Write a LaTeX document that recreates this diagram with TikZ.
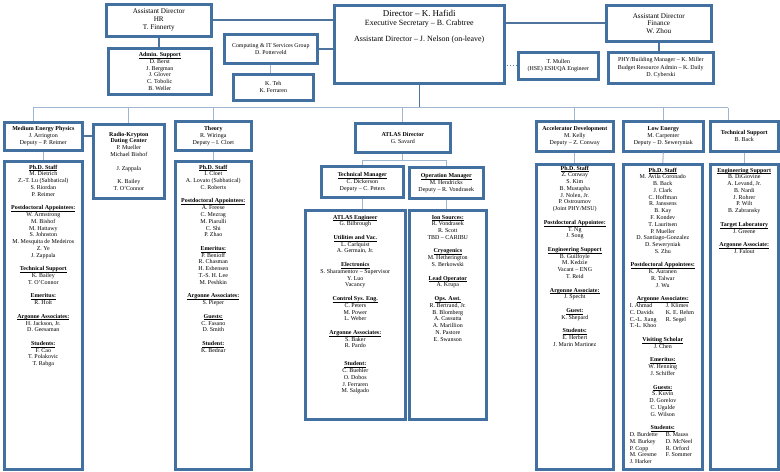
\documentclass[tikz,border=0pt]{standalone}
\usepackage{fontspec}
\setmainfont{Liberation Serif}
\usetikzlibrary{calc}
\definecolor{boxblue}{RGB}{66,112,160}
\definecolor{linkblue}{RGB}{78,116,158}
\definecolor{treeblue}{RGB}{160,182,206}
\newcommand{\grp}[1]{\rule{0pt}{4.4bp}\underline{\smash{\textbf{#1}}}}
\newcommand{\pair}[2]{\makebox[36bp][l]{#1}\makebox[30bp][l]{#2}}
\tikzset{box/.style={draw=boxblue,line width=2.6bp,fill=white,inner sep=0pt,anchor=north west,align=center,font=\fontsize{6}{6.8}\selectfont}}
\tikzset{txt/.style={inner sep=0pt,anchor=north,align=center,font=\fontsize{6}{6.8}\selectfont}}
\tikzset{link/.style={draw=linkblue,line width=1.6bp}}
\tikzset{tree/.style={draw=treeblue,line width=1bp}}

\begin{document}
\begin{tikzpicture}[x=1bp,y=-1bp]
  \useasboundingbox (0,0) rectangle (780,472);
  % top row
  \node[box,font=\fontsize{7.2}{8}\selectfont,minimum width=105bp,minimum height=32bp] (hr) at (105,3) {Assistant Director\\ HR\\ T. Finnerty};
  \node[box,minimum width=103bp,minimum height=46bp] (admin) at (107,47) {\grp{Admin. Support}\\ D. Berst\\ J. Bergman\\ J. Glover\\ C. Tobolic\\ B. Weller};
  \node[box,font=\fontsize{5.9}{7}\selectfont,minimum width=93bp,minimum height=29bp] (comp) at (223,33) {Computing \& IT Services Group\\ D. Potterveld};
  \node[box,minimum width=80bp,minimum height=26bp] (teh) at (232,73) {K. Teh\\ K. Ferraren};
  \node[box,minimum width=170bp,minimum height=78bp] (dir) at (333,4) {};
  \node[txt,font=\fontsize{8}{9.5}\selectfont] (dirtxt) at ([yshift=-5.5bp]dir.north) {{\fontsize{9}{10}\selectfont Director -- K. Hafidi}\\[0.5bp] Executive Secretary -- B. Crabtree\\[6.5bp] Assistant Director -- J. Nelson (on-leave)};
  \node[box,font=\fontsize{6}{7.5}\selectfont,minimum width=80bp,minimum height=27bp] (mullen) at (517,51) {T. Mullen\\ (HSE) ESH/QA Engineer};
  \node[box,font=\fontsize{7.2}{7.6}\selectfont,minimum width=105bp,minimum height=36bp] (fin) at (605,4) {Assistant Director\\ Finance\\ W. Zhou};
  \node[box,font=\fontsize{6}{7.7}\selectfont,minimum width=105bp,minimum height=31bp] (phy) at (607,51) {PHY/Building Manager -- K. Miller\\ Budget Resource Admin -- K. Daily\\ D. Cyberski};

  % group heads
  \node[box,minimum width=78bp,minimum height=28bp] (mep) at (3,121) {\textbf{Medium Energy Physics}\\ J. Arrington\\ Deputy -- P. Reimer};
  \node[box,minimum width=71bp,minimum height=74bp] (radio) at (92,123) {\textbf{Radio-Krypton}\\ \textbf{Dating Center}\\ P. Mueller\\ Michael Bishof\\[6.8bp] J. Zappala\\[6.8bp] K. Bailey\\ T. O'Connor};
  \node[box,minimum width=76bp,minimum height=29bp] (theory) at (174,120) {\textbf{Theory}\\ R. Wiringa\\ Deputy -- I. Cloet};
  \node[box,minimum width=95bp,minimum height=29bp] (atlas) at (354,122) {\textbf{ATLAS Director}\\ G. Savard};
  \node[box,minimum width=82bp,minimum height=31bp] (techmgr) at (320,165) {\grp{Technical Manager}\\ C. Dickerson\\ Deputy -- C. Peters};
  \node[box,minimum width=74bp,minimum height=31bp] (opsmgr) at (408,166) {\grp{Operation Manager}\\ M. Hendricks\\ Deputy -- R. Vondrasek};
  \node[box,minimum width=77bp,minimum height=30bp] (accel) at (535,120) {\textbf{Accelerator Development}\\ M. Kelly\\ Deputy -- Z. Conway};
  \node[box,minimum width=80bp,minimum height=30bp] (lowe) at (622,120) {\textbf{Low Energy}\\ M. Carpenter\\ Deputy -- D. Seweryniak};
  \node[box,minimum width=68bp,minimum height=30bp] (techsup) at (709,120) {\textbf{Technical Support}\\ B. Back};

  % staff boxes
  \node[box,minimum width=78bp,minimum height=308bp] (mepstaff) at (3,160) {};
  \node[txt] (mepstafftxt) at ([yshift=-4.5bp]mepstaff.north) {\grp{Ph.D. Staff}\\ M. Dietrich\\ Z.-T. Lu (Sabbatical)\\ S. Riordan\\ P. Reimer\\[6.8bp] \grp{Postdoctoral Appointees:}\\ W. Armstrong\\ M. Bishof\\ M. Hattawy\\ S. Johnston\\ M. Mesquita de Medeiros\\ Z. Ye\\ J. Zappala\\[6.8bp] \grp{Technical Support}\\ K. Bailey\\ T. O'Connor\\[6.8bp] \grp{Emeritus:}\\ R. Holt\\[6.8bp] \grp{Argonne Associates:}\\ H. Jackson, Jr.\\ D. Geesaman\\[6.8bp] \grp{Students:}\\ F. Cao\\ T. Polakovic\\ T. Rabga};
  \node[box,minimum width=76bp,minimum height=308bp] (theorystaff) at (174,160) {};
  \node[txt] (theorystafftxt) at ([yshift=-4.5bp]theorystaff.north) {\grp{Ph.D. Staff}\\ I. Cloet\\ A. Lovato (Sabbatical)\\ C. Roberts\\[6.8bp] \grp{Postdoctoral Appointees:}\\ A. Freese\\ C. Mezrag\\ M. Piarulli\\ C. Shi\\ P. Zhao\\[6.8bp] \grp{Emeritus:}\\ P. Benioff\\ R. Chasman\\ H. Esbensen\\ T.-S. H. Lee\\ M. Peshkin\\[6.8bp] \grp{Argonne Associates:}\\ S. Pieper\\[6.8bp] \grp{Guests:}\\ C. Fasano\\ D. Smith\\[6.8bp] \grp{Student:}\\ K. Bednar};
  \node[box,minimum width=100bp,minimum height=209bp] (techstaff) at (304,209) {};
  \node[txt] (techstafftxt) at ([yshift=-5.5bp]techstaff.north) {\grp{ATLAS Engineer}\\ G. Bilbrough\\[6.8bp] \grp{Utilities and Vac.}\\ L. Carlquist\\ A. Germain, Jr.\\[6.8bp] \grp{Electronics}\\ S. Sharamentov -- Supervisor\\ Y. Luo\\ Vacancy\\[6.8bp] \grp{Control Sys. Eng.}\\ C. Peters\\ M. Power\\ L. Weber\\[6.8bp] \grp{Argonne Associates:}\\ S. Baker\\ R. Pardo\\[11bp] \grp{Student:}\\ C. Buehler\\ O. Dobos\\ J. Ferraren\\ M. Salgado};
  \node[box,minimum width=77bp,minimum height=209bp] (opsstaff) at (408,209) {};
  \node[txt] (opsstafftxt) at ([yshift=-5.5bp]opsstaff.north) {\grp{Ion Sources:}\\ R. Vondrasek\\ R. Scott\\ TBD -- CARIBU\\[6.8bp] \grp{Cryogenics}\\ M. Hetherington\\ S. Berkowski\\[6.8bp] \grp{Lead Operator}\\ A. Krupa\\[6.8bp] \grp{Ops. Asst.}\\ R. Bertrand, Jr.\\ B. Blomberg\\ A. Cassutta\\ A. Marillion\\ N. Pastore\\ E. Swanson};
  \node[box,minimum width=77bp,minimum height=305bp] (accelstaff) at (535,163) {};
  \node[txt] (accelstafftxt) at ([yshift=-2.5bp]accelstaff.north) {\grp{Ph.D. Staff}\\ Z. Conway\\ S. Kim\\ B. Mustapha\\ J. Nolen, Jr.\\ P. Ostroumov\\ (Joint PHY/MSU)\\[6.8bp] \grp{Postdoctoral Appointee:}\\ T. Ng\\ J. Song\\[6.8bp] \grp{Engineering Support}\\ B. Guilfoyle\\ M. Kedzie\\ Vacant -- ENG\\ T. Reid\\[6.8bp] \grp{Argonne Associate:}\\ J. Specht\\[6.8bp] \grp{Guest:}\\ K. Shepard\\[6.8bp] \grp{Students:}\\ E. Herbert\\ J. Marin Martinez};
  \node[box,minimum width=79bp,minimum height=305bp] (lowestaff) at (622,163) {};
  \node[txt] (lowestafftxt) at ([yshift=-4.5bp]lowestaff.north) {\grp{Ph.D. Staff}\\ M. Avila Coronado\\ B. Back\\ J. Clark\\ C. Hoffman\\ R. Janssens\\ B. Kay\\ F. Kondev\\ T. Lauritsen\\ P. Mueller\\ D. Santiago-Gonzalez\\ D. Seweryniak\\ S. Zhu\\[6.8bp] \grp{Postdoctoral Appointees:}\\ K. Auranen\\ R. Talwar\\ J. Wu\\[6.8bp] \grp{Argonne Associates:}\\ \pair{I. Ahmad}{J. Klimes}\\ \pair{C. Davids}{K. E. Rehm}\\ \pair{C.-L. Jiang}{R. Segel}\\ \pair{T.-L. Khoo}{}\\[6.8bp] \grp{Visiting Scholar}\\ J. Chen\\[6.8bp] \grp{Emeritus:}\\ W. Henning\\ J. Schiffer\\[6.8bp] \grp{Guests:}\\ S. Kuvin\\ D. Gorelov\\ C. Ugalde\\ G. Wilson\\[6.8bp] \grp{Students:}\\ \pair{D. Burdette}{B. Mauss}\\ \pair{M. Burkey}{D. McNeel}\\ \pair{P. Copp}{R. Orford}\\ \pair{M. Gresme}{F. Sommer}\\ \pair{J. Harker}{}};
  \node[box,minimum width=68bp,minimum height=305bp] (techsupstaff) at (709,163) {};
  \node[txt] (techsupstafftxt) at ([yshift=-4.5bp]techsupstaff.north) {\grp{Engineering Support}\\ B. DiGiovine\\ A. Levand, Jr.\\ B. Nardi\\ J. Rohrer\\ P. Wilt\\ B. Zabransky\\[6.8bp] \grp{Target Laboratory}\\ J. Greene\\[6.8bp] \grp{Argonne Associate:}\\ J. Falout};

  % connectors, top
  \draw[link] (hr.east) -- (hr.east -| dir.west);
  \draw[link] (fin.west) -- (fin.west -| dir.east);
  \draw[link] (comp.east) -- (comp.east -| dir.west);
  \draw[link,line width=1bp,dotted] (mullen.west) -- (mullen.west -| dir.east);
  \draw[link] (hr.south) -- (hr.south |- admin.north);
  \draw[tree] (comp.south) -- (comp.south |- teh.north);
  \draw[link] (fin.south) -- (fin.south |- phy.north);
  % bus to groups
  \coordinate (busL) at (33,108);
  \coordinate (busR) at (728,108);
  \draw[link] (dir.south) -- (dir.south |- busL);
  \draw[tree] (busL) -- (busR);
  \draw[tree] (busL) -- (busL |- mep.north);
  \draw[tree] (radio.north |- busL) -- (radio.north);
  \draw[tree] (theory.north |- busL) -- (theory.north);
  \draw[tree] (atlas.north |- busL) -- (atlas.north);
  \draw[tree] (accel.north |- busL) -- (accel.north);
  \draw[tree] (lowe.north |- busL) -- (lowe.north);
  \draw[tree] (busR) -- (busR |- techsup.north);
  \draw[link] (mep.east) -- (mep.east -| radio.west);
  % heads to staff
  \draw[tree] (mep.south) -- (mepstaff.north);
  \draw[tree] (theory.south) -- (theorystaff.north);
  \draw[tree] (accel.south) -- (accelstaff.north);
  \draw[tree] (lowe.south) -- (lowestaff.north);
  \draw[tree] (techsup.south) -- (techsupstaff.north);
  % ATLAS
  \coordinate (abar) at ($(atlas.south)+(0,7)$);
  \draw[tree] (atlas.south) -- (abar);
  \draw[tree] (techmgr.north) |- (abar) -| (opsmgr.north);
  \draw[tree] (techmgr.south) -- (techmgr.south |- techstaff.north);
  \draw[tree] (opsmgr.south) -- (opsmgr.south |- opsstaff.north);
\end{tikzpicture}
\end{document}
